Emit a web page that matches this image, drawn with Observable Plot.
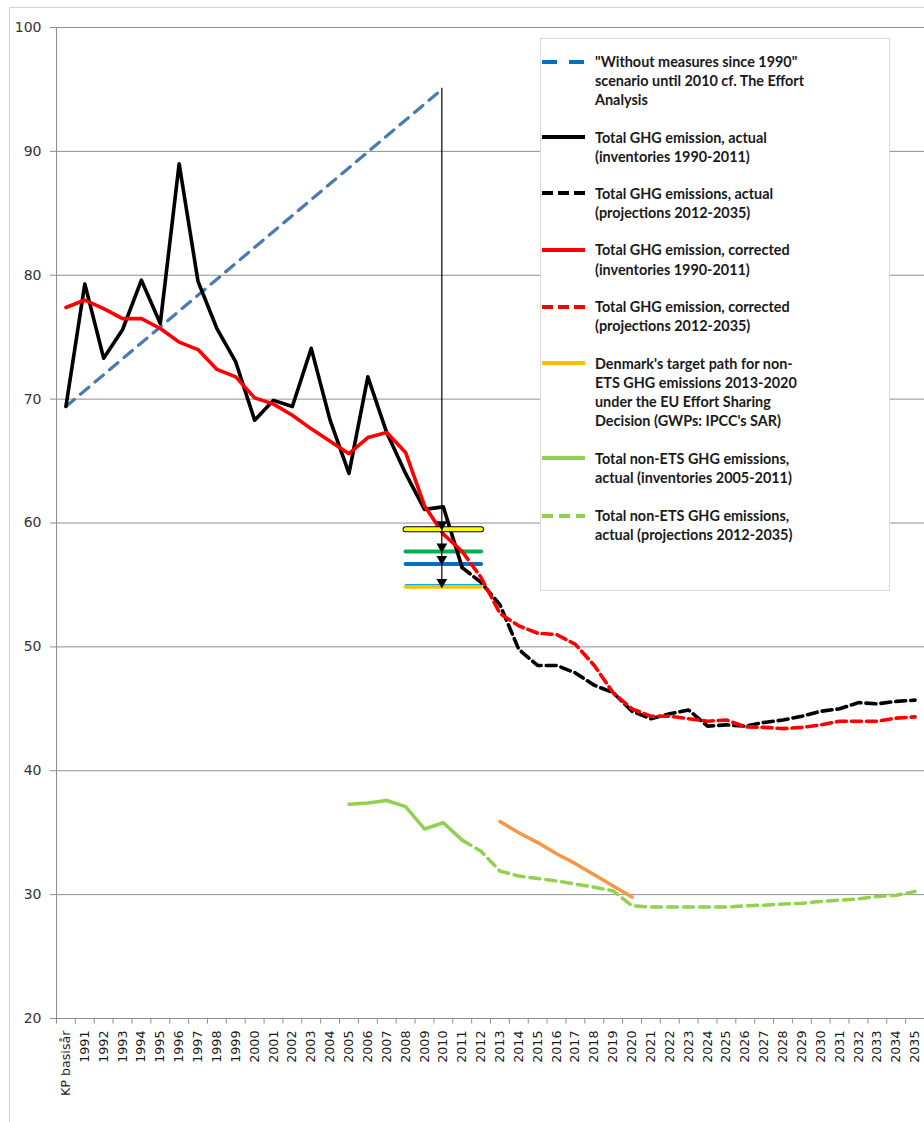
<!DOCTYPE html>
<html><head><meta charset="utf-8">
<script src="https://cdn.jsdelivr.net/npm/d3@7"></script>
<script src="https://cdn.jsdelivr.net/npm/@observablehq/plot@0.6"></script>
<style>
html,body{margin:0;padding:0;background:#fff;}
#wrap{position:relative;width:924px;height:1122px;overflow:hidden;background:#fff;}
#frame{position:absolute;left:9px;top:7px;width:1000px;height:1200px;border:1px solid #d4d4d4;}
#chart{position:absolute;left:0;top:0;}
#legend{position:absolute;left:540px;top:38px;width:348px;height:551px;border:1px solid #d9d9d9;background:#fff;}
.entry{position:absolute;left:595px;font-family:Lato, "Open Sans", sans-serif;font-weight:700;font-size:14.4px;line-height:19.1px;color:#1a1a1a;white-space:nowrap;}
.sample{position:absolute;left:541px;}
</style></head><body>
<div id="wrap"><div id="frame"></div><div id="chart"></div><div id="legend"></div></div>
<script>
// ---- categories / ticks ----
const categories = ["KP basisår","1991","1992","1993","1994","1995","1996","1997","1998","1999","2000",
  "2001","2002","2003","2004","2005","2006","2007","2008","2009","2010","2011","2012","2013","2014",
  "2015","2016","2017","2018","2019","2020","2021","2022","2023","2024","2025","2026","2027","2028",
  "2029","2030","2031","2032","2033","2034","2035"];
const yTicks = [20, 30, 40, 50, 60, 70, 80, 90, 100];

// ---- series values ----
// "Without measures since 1990" scenario (KP basisår -> 2010)
const withoutMeasuresLabels = ["KP basisår", "2010"];
const withoutMeasures = [69.4, 95.1];
// Total GHG emission, actual (inventories, KP basisår..2011)
const actualInventory = [69.4, 79.3, 73.3, 75.6, 79.6, 76.1, 89.0, 79.5, 75.7, 73.0, 68.3,
  69.9, 69.4, 74.1, 68.3, 64.0, 71.8, 67.3, 64.0, 61.1, 61.3, 56.4];
// Total GHG emissions, actual (projections, 2011..2035)
const actualProjection = [56.4, 55.2, 53.4, 49.8, 48.5, 48.5, 47.9, 46.9, 46.3, 44.8, 44.2,
  44.6, 44.9, 43.6, 43.7, 43.6, 43.9, 44.1, 44.4, 44.8, 45.0, 45.5, 45.4, 45.6, 45.7];
// Total GHG emission, corrected (inventories, KP basisår..2011)
const correctedInventory = [77.4, 78.0, 77.3, 76.5, 76.5, 75.7, 74.6, 74.0, 72.4, 71.8, 70.1,
  69.6, 68.7, 67.6, 66.6, 65.6, 66.9, 67.3, 65.7, 61.4, 59.1, 57.7];
// Total GHG emission, corrected (projections, 2011..2035)
const correctedProjection = [57.7, 55.6, 52.7, 51.7, 51.1, 51.0, 50.2, 48.5, 46.3, 45.0, 44.4,
  44.4, 44.2, 44.0, 44.1, 43.55, 43.5, 43.4, 43.5, 43.7, 44.0, 44.0, 44.0, 44.25, 44.35];
// Denmark's target path for non-ETS emissions (2013..2020)
const targetPath = [35.9, 35.0, 34.2, 33.3, 32.5, 31.6, 30.7, 29.8];
// Total non-ETS GHG emissions, actual (inventories 2005..2011)
const nonEtsInventory = [37.3, 37.4, 37.6, 37.1, 35.3, 35.8, 34.4];
// Total non-ETS GHG emissions, actual (projections 2011..2035)
const nonEtsProjection = [34.4, 33.5, 31.9, 31.5, 31.3, 31.1, 30.85, 30.6, 30.3, 29.1, 29.0,
  29.0, 29.0, 29.0, 29.0, 29.1, 29.15, 29.25, 29.3, 29.45, 29.55, 29.65, 29.85, 29.95, 30.25];
// Kyoto-period reference levels marked around 2008-2012
const markerSpan = ["2008", "2012"];
const markerLevels = [59.5, 57.7, 56.7, 54.85];
const markerColors = ["#FFFF00", "#00B050", "#0070C0", "#FFC000"];
const arrowColumn = "2010";

// ---- helpers ----
const X = l => categories.indexOf(l);
const series = (start, values) => values.map((v, k) => ({x: X(start) + k, y: v}));
const boundaries = categories.map((_, i) => i - 0.5).concat([categories.length - 0.5]);
const markers = markerLevels.map((v, i) => [
  {x: X(markerSpan[0]), y: v, c: markerColors[i], k: i},
  {x: X(markerSpan[1]), y: v, c: markerColors[i], k: i}]);
const grid = "#8f8f8f";

const chart = Plot.plot({
  width: 924, height: 1122,
  marginLeft: 56, marginRight: 0, marginTop: 27, marginBottom: 104,
  x: {domain: [-0.5, categories.length - 0.5], label: null},
  y: {domain: [20, 100], label: null},
  style: {fontFamily: "DejaVu Sans", background: "transparent", overflow: "visible"},
  marks: [
    Plot.ruleY(yTicks, {stroke: grid, strokeWidth: 1}),
    Plot.ruleX([-0.5], {stroke: grid}),
    Plot.ruleX(boundaries, {y1: 20, y2: 19.55, stroke: grid}),
    Plot.axisY({ticks: yTicks, tickSize: 6, tickPadding: 9, fontSize: 14, stroke: grid, fill: "#333", label: null}),
    Plot.axisX({ticks: categories.map((_, i) => i), tickFormat: i => categories[i], tickRotate: -90,
      tickSize: 0, tickPadding: 12, fontSize: 12.7, fill: "#1a1a1a", label: null}),
    // non-yellow markers under the lines
    ...markers.slice(1).map(m => Plot.line(m, {x: "x", y: "y", stroke: m[0].c, strokeWidth: 4, strokeLinecap: "round"})),
    Plot.line(markers[3], {x: "x", y: "y", stroke: "#00B0F0", strokeWidth: 1.2, dy: -2.3}),
    // without measures
    Plot.line(withoutMeasuresLabels.map((l, i) => ({x: X(l), y: withoutMeasures[i]})),
      {x: "x", y: "y", stroke: "#4A7AB4", strokeWidth: 3.2, strokeDasharray: "11,8"}),
    // green non-ETS
    Plot.line(series("2005", nonEtsInventory), {x: "x", y: "y", stroke: "#92D050", strokeWidth: 3.5, strokeLinejoin: "round", strokeLinecap: "round"}),
    Plot.line(series("2011", nonEtsProjection), {x: "x", y: "y", stroke: "#92D050", strokeWidth: 3.5, strokeDasharray: "10,6", strokeLinejoin: "round"}),
    // orange target path
    Plot.line(series("2013", targetPath), {x: "x", y: "y", stroke: "#F79646", strokeWidth: 3.5, strokeLinecap: "round"}),
    // black & red
    Plot.line(series("KP basisår", actualInventory), {x: "x", y: "y", stroke: "#000", strokeWidth: 3.6, strokeLinejoin: "round", strokeLinecap: "round"}),
    Plot.line(series("2011", actualProjection), {x: "x", y: "y", stroke: "#000", strokeWidth: 3.6, strokeDasharray: "10,5", strokeLinejoin: "round"}),
    Plot.line(series("KP basisår", correctedInventory), {x: "x", y: "y", stroke: "#FF0000", strokeWidth: 3.6, strokeLinejoin: "round", strokeLinecap: "round"}),
    Plot.line(series("2011", correctedProjection), {x: "x", y: "y", stroke: "#FF0000", strokeWidth: 3.6, strokeDasharray: "10,5", strokeLinejoin: "round"}),
    // yellow marker on top with black outline
    Plot.line(markers[0], {x: "x", y: "y", stroke: "#000", strokeWidth: 6, strokeLinecap: "round"}),
    Plot.line(markers[0], {x: "x", y: "y", stroke: markers[0][0].c, strokeWidth: 4, strokeLinecap: "round"}),
    // arrow
    Plot.ruleX([X(arrowColumn)], {y1: withoutMeasures[1], y2: markerLevels[3], stroke: "#000", strokeWidth: 1.2, dx: -1.5}),
    Plot.dot(markerLevels.map(v => ({x: X(arrowColumn), y: v})), {x: "x", y: "y", symbol: "triangle", rotate: 180, r: 4, fill: "#000", dy: -4.8, dx: -1.5})
  ]
});
document.getElementById("chart").appendChild(chart);

// ---- legend (HTML overlay) ----
const legendItems = [
  {lines: ["\"Without measures since 1990\"", "scenario until 2010  cf. The Effort", "Analysis"], color: "#0070C0", dash: "15,12", top: 61.7},
  {lines: ["Total GHG emission, actual", "(inventories 1990-2011)"], color: "#000", dash: null, top: 137.3},
  {lines: ["Total GHG emissions, actual", "(projections 2012-2035)"], color: "#000", dash: "11,5", top: 193.3},
  {lines: ["Total GHG emission, corrected", "(inventories 1990-2011)"], color: "#FF0000", dash: null, top: 250},
  {lines: ["Total GHG emission, corrected", "(projections 2012-2035)"], color: "#FF0000", dash: "11,5", top: 306.7},
  {lines: ["Denmark's target path for non-", "ETS GHG emissions 2013-2020", "under the EU Effort Sharing", "Decision (GWPs: IPCC's SAR)"], color: "#FFC000", dash: null, top: 363.3},
  {lines: ["Total non-ETS GHG emissions,", "actual (inventories 2005-2011)"], color: "#92D050", dash: null, top: 458.3},
  {lines: ["Total non-ETS GHG emissions,", "actual (projections 2012-2035)"], color: "#92D050", dash: "11,6", top: 515.7}
];
const wrap = document.getElementById("wrap");
for (const it of legendItems) {
  const svgNS = "http://www.w3.org/2000/svg";
  const s = document.createElementNS(svgNS, "svg");
  s.setAttribute("class", "sample");
  s.setAttribute("width", 46); s.setAttribute("height", 8);
  s.style.top = (it.top - 4) + "px";
  const ln = document.createElementNS(svgNS, "line");
  ln.setAttribute("x1", 1); ln.setAttribute("x2", 44); ln.setAttribute("y1", 4); ln.setAttribute("y2", 4);
  ln.setAttribute("stroke", it.color); ln.setAttribute("stroke-width", 4);
  if (it.dash) ln.setAttribute("stroke-dasharray", it.dash);
  s.appendChild(ln);
  wrap.appendChild(s);
  const d = document.createElement("div");
  d.className = "entry";
  d.style.top = (it.top - 9.55) + "px";
  d.innerHTML = it.lines.map(t => t.replace(/&/g, "&amp;").replace(/</g, "&lt;")).join("<br>");
  wrap.appendChild(d);
}
</script>
</body></html>
